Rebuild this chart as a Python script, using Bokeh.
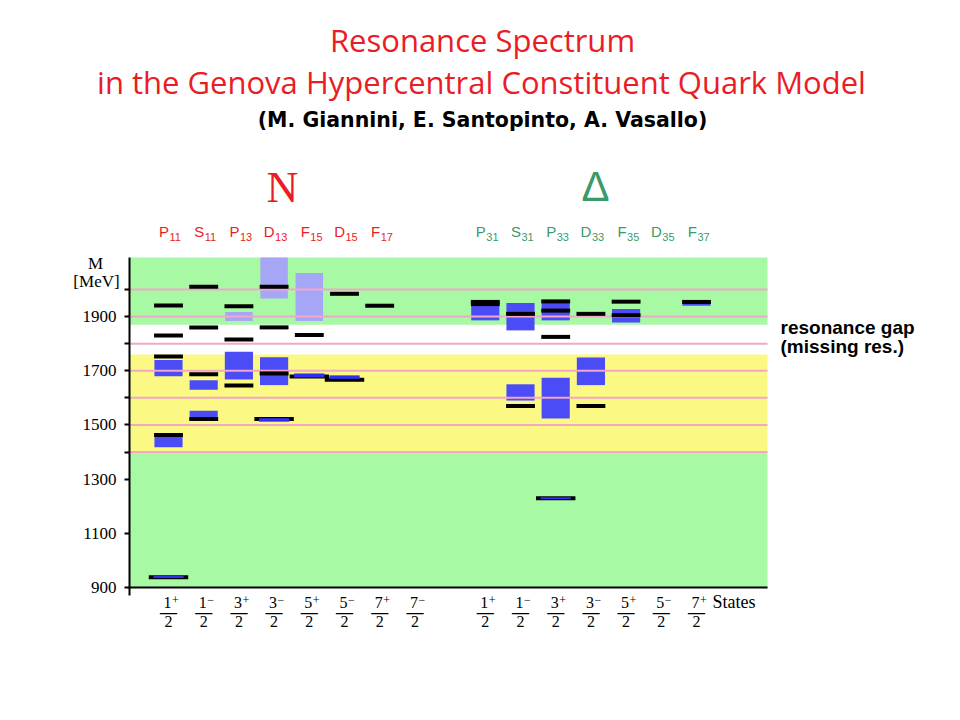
from bokeh.plotting import figure
from bokeh.models import Label, FixedTicker, LinearAxis, Range1d
from bokeh.embed import file_html
from bokeh.resources import INLINE

# ---------------- data ----------------
n_waves = ["P11", "S11", "P13", "D13", "F15", "D15", "F17"]
delta_waves = ["P31", "S31", "P33", "D33", "F35", "D35", "F37"]
n_state_numerators = ["1", "1", "3", "3", "5", "5", "7", "7"]
n_state_parities = ["+", "−", "+", "−", "+", "−", "+", "−"]
delta_state_numerators = ["1", "1", "3", "3", "5", "5", "7"]
delta_state_parities = ["+", "−", "+", "−", "+", "−", "+"]

mass_min, mass_max = 900, 2118
band_bottoms = [900, 1400, 1870]
band_tops = [1400, 1760, 2118]
band_kinds = ["green", "yellow", "green"]
grid_masses = [1400, 1500, 1600, 1700, 1800, 1900, 2000]
y_ticks = [900, 1100, 1300, 1400, 1500, 1600, 1700, 1800, 1900, 2000]
y_tick_labels = ["900", "1100", "1300", "", "1500", "", "1700", "", "1900", ""]

# experimental ranges (blue boxes)
exp_wave = ["P11", "P11", "S11", "S11", "P13", "D13",
            "P31", "S31", "S31", "P33", "P33", "D33", "F35", "F37"]
exp_low = [1418, 1680, 1520, 1630, 1668, 1647,
           1886, 1590, 1849, 1524, 1886, 1647, 1878, 1940]
exp_high = [1460, 1740, 1552, 1665, 1770, 1750,
            1941, 1650, 1950, 1674, 1956, 1749, 1928, 1950]

# narrow experimental states (drawn over the model lines)
narrow_wave = ["P11", "D13", "F15", "D15", "P33"]
narrow_low = [935, 1512, 1675, 1670, 1226]
narrow_high = [942, 1525, 1690, 1683, 1233]

# less established states (pale boxes)
pale_wave = ["P13", "D13", "F15"]
pale_low = [1884, 1967, 1884]
pale_high = [1917, 2130, 2061]

# model states (black lines)
model_wave = ["P11", "P11", "P11", "P11", "P11",
              "S11", "S11", "S11", "S11",
              "P13", "P13", "P13",
              "D13", "D13", "D13", "D13",
              "F15", "F15",
              "D15", "D15",
              "F17",
              "P31", "P31",
              "S31", "S31",
              "P33", "P33", "P33", "P33",
              "D33", "D33",
              "F35", "F35",
              "F37"]
model_mass = [938, 1463, 1753, 1830, 1941,
              1522, 1687, 1860, 2010,
              1646, 1815, 1938,
              1522, 1690, 1860, 2010,
              1679, 1832,
              1667, 1984,
              1940,
              1946, 1954,
              1570, 1910,
              1229, 1825, 1922, 1956,
              1570, 1910,
              1905, 1955,
              1954]

# ---------------- layout / style ----------------
RED = "#ea1c24"
GREEN_TXT = "#3a9a68"
BAND_COLORS = {"green": "#a8f9a4", "yellow": "#fbf884"}
PINK = "#f2a7c9"
BLUE = "#4c4cf6"
BLUE_NARROW = "#2f2ff0"
PALE = "#a6a6f6"

W, H = 950, 710
FL, FR, FT, FB = 129, 767, 257, 587       # plot-area edges in canvas px
COL0, COLW = 168, 35.2                    # first column centre, column pitch (px)
PXM = (FB - FT) / (mass_max - mass_min)   # px per MeV


def X(px):
    return (px - COL0) / COLW


def Y(py):
    return mass_min + (FB - py) / PXM


XLO, XHI = X(FL), X(FR)

slot = {w: i for i, w in enumerate(n_waves)}
slot.update({w: 9 + i for i, w in enumerate(delta_waves)})

p = figure(width=W, height=H, x_range=Range1d(X(0), X(W)), y_range=Range1d(Y(H), Y(0)),
           output_backend="svg", toolbar_location=None, min_border=0,
           x_axis_type=None, y_axis_type=None)
p.outline_line_color = None
p.xgrid.visible = False
p.ygrid.visible = False
p.background_fill_color = "white"
p.border_fill_color = "white"

# background bands
p.quad(left=XLO, right=XHI, bottom=band_bottoms, top=band_tops,
       fill_color=[BAND_COLORS[k] for k in band_kinds], line_alpha=0)

# boxes
px_ = [slot[w] for w in pale_wave]
p.quad(left=[x - 0.39 for x in px_], right=[x + 0.39 for x in px_],
       bottom=pale_low, top=[min(h, mass_max) for h in pale_high],
       fill_color=PALE, line_alpha=0)
ex_ = [slot[w] for w in exp_wave]
p.quad(left=[x - 0.4 for x in ex_], right=[x + 0.4 for x in ex_],
       bottom=exp_low, top=exp_high, fill_color=BLUE, line_alpha=0)

# pink lines
p.segment(x0=XLO, x1=XHI, y0=grid_masses, y1=grid_masses, line_color=PINK, line_width=2)

# model lines
mx = [slot[w] for w in model_wave]
half = []
for w, m in zip(model_wave, model_mass):
    wide = any(nw == w and lo - 12 <= m <= hi + 12
               for nw, lo, hi in zip(narrow_wave, narrow_low, narrow_high))
    half.append(0.56 if wide else 0.41)
p.segment(x0=[x - h for x, h in zip(mx, half)], x1=[x + h for x, h in zip(mx, half)],
          y0=model_mass, y1=model_mass, line_color="black", line_width=4)

# narrow experimental states on top
nx_ = [slot[w] for w in narrow_wave]
p.quad(left=[x - 0.43 for x in nx_], right=[x + 0.43 for x in nx_],
       bottom=narrow_low, top=narrow_high, fill_color=BLUE_NARROW, line_alpha=0)

# axes (fixed at the plot-area edges)
yax = LinearAxis(fixed_location=XLO, bounds=(Y(595), mass_max))
yax.ticker = FixedTicker(ticks=y_ticks)
yax.major_label_overrides = {t: l for t, l in zip(y_ticks, y_tick_labels)}
yax.minor_tick_line_color = None
yax.major_tick_in = 0
yax.major_tick_out = 5
yax.major_tick_line_width = 2
yax.axis_line_width = 2
yax.major_label_text_font = "Liberation Serif"
yax.major_label_text_font_size = "17px"
yax.major_label_text_color = "black"
yax.major_label_standoff = 8
p.add_layout(yax, "left")

xax = LinearAxis(fixed_location=mass_min, bounds=(XLO, XHI))
xax.ticker = FixedTicker(ticks=[])
xax.minor_tick_line_color = None
xax.axis_line_width = 2
xax.major_label_text_font_size = "0px"
p.add_layout(xax, "below")


def lab(x, y, text, size, color="black", font="Liberation Serif",
        align="center", style="normal", x_offset=0):
    p.add_layout(Label(x=x, y=y, text=text, text_font_size=size, text_color=color,
                       text_font=font, text_align=align, text_baseline="middle",
                       text_font_style=style, x_offset=x_offset))


# titles
lab(X(482), Y(39), "Resonance Spectrum", "31px", RED, "Open Sans")
lab(X(481), Y(81), "in the Genova Hypercentral Constituent Quark Model", "31px", RED, "Open Sans")
lab(X(482), Y(119), "(M. Giannini, E. Santopinto, A. Vasallo)", "20.5px", "black", "DejaVu Sans", style="bold")

# group symbols
lab(X(282), Y(187), "N", "44px", RED)
lab(X(595), Y(186), "Δ", "42px", GREEN_TXT, "Liberation Sans")

# partial-wave labels
for w in n_waves + delta_waves:
    col = RED if w in n_waves else GREEN_TXT
    lab(slot[w], Y(231), w[0], "15px", col, "Liberation Sans", align="right", x_offset=0.5)
    lab(slot[w], Y(236), w[1:], "11px", col, "Liberation Sans", align="left", x_offset=1)

# spin-parity fractions under the axis
fracs = [(i, n, s) for i, (n, s) in enumerate(zip(n_state_numerators, n_state_parities))]
fracs += [(9 + i, n, s) for i, (n, s) in enumerate(zip(delta_state_numerators, delta_state_parities))]
for xs, num, sgn in fracs:
    lab(xs, Y(601.5), num, "16px", align="right", x_offset=3)
    lab(xs, Y(599), sgn, "12px", align="left", x_offset=3.5)
    lab(xs, Y(612), "—", "17px", style="bold")
    lab(xs, Y(621), "2", "16px")
lab(X(712), Y(601), "States", "18px", align="left")

# y-axis title
lab(X(95), Y(262.5), "M", "17px")
lab(X(96), Y(281), "[MeV]", "17px")

# annotation
lab(X(780), Y(327), "resonance gap", "19px", "black", "Liberation Sans", align="left", style="bold")
lab(X(780), Y(346), "(missing res.)", "19px", "black", "Liberation Sans", align="left", style="bold")

open("out.html", "w").write(file_html(p, INLINE))
